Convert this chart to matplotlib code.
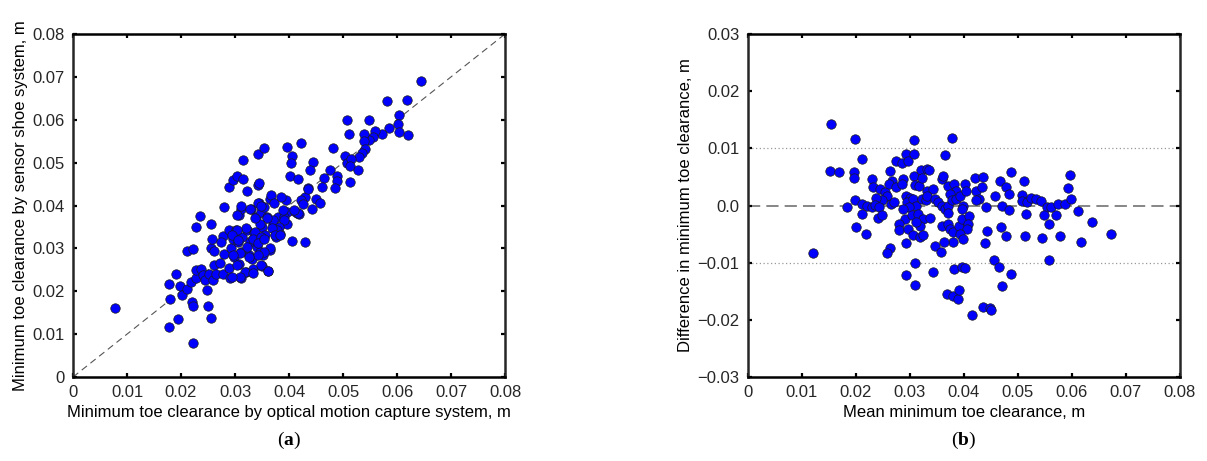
import matplotlib
matplotlib.use("Agg")
import matplotlib.pyplot as plt

plt.rcParams['font.family'] = ['Liberation Sans', 'DejaVu Sans']
plt.rcParams['font.size'] = 12
plt.rcParams['mathtext.fontset'] = 'custom'
plt.rcParams['mathtext.rm'] = 'Liberation Serif'
plt.rcParams['mathtext.bf'] = 'Liberation Serif:bold'

# (a) optical motion capture vs sensor shoe, m
optical = [0.0078, 0.0178, 0.0195, 0.0223, 0.0180, 0.0178, 0.0191, 0.0198, 0.0201, 0.0211,
           0.0220, 0.0223, 0.0212, 0.0223, 0.0227, 0.0236, 0.0219, 0.0227, 0.0228, 0.0237,
           0.0240, 0.0244, 0.0248, 0.0250, 0.0256, 0.0251, 0.0259, 0.0256, 0.0256, 0.0257,
           0.0261, 0.0262, 0.0265, 0.0272, 0.0277, 0.0274, 0.0280, 0.0278, 0.0280, 0.0288,
           0.0288, 0.0289, 0.0291, 0.0293, 0.0296, 0.0297, 0.0303, 0.0299, 0.0302, 0.0305,
           0.0307, 0.0308, 0.0311, 0.0314, 0.0314, 0.0312, 0.0311, 0.0313, 0.0320, 0.0322,
           0.0323, 0.0325, 0.0327, 0.0330, 0.0331, 0.0334, 0.0336, 0.0338, 0.0341, 0.0342,
           0.0343, 0.0344, 0.0344, 0.0345, 0.0347, 0.0348, 0.0350, 0.0350, 0.0351, 0.0354,
           0.0354, 0.0356, 0.0360, 0.0362, 0.0364, 0.0365, 0.0367, 0.0370, 0.0372, 0.0373,
           0.0376, 0.0379,
           0.0644, 0.0581, 0.0619, 0.0604, 0.0602, 0.0585, 0.0604, 0.0620, 0.0572, 0.0559,
           0.0556, 0.0549, 0.0538, 0.0538, 0.0548, 0.0507, 0.0511, 0.0541, 0.0536, 0.0530,
           0.0504, 0.0508, 0.0515, 0.0513, 0.0528, 0.0482, 0.0476, 0.0489, 0.0488, 0.0464,
           0.0462, 0.0485, 0.0513, 0.0444, 0.0439, 0.0436, 0.0430, 0.0422, 0.0406, 0.0404,
           0.0396, 0.0402, 0.0416, 0.0442, 0.0450, 0.0457, 0.0422, 0.0426, 0.0405, 0.0430,
           0.0414, 0.0418, 0.0410, 0.0396, 0.0394, 0.0386, 0.0383, 0.0396, 0.0390, 0.0328,
           0.0436, 0.0417, 0.0410, 0.0388, 0.0343, 0.0349, 0.0390, 0.0382, 0.0371, 0.0377,
           0.0368, 0.0359, 0.0346, 0.0337, 0.0312, 0.0304, 0.0320, 0.0303, 0.0294, 0.0337,
           0.0334, 0.0349, 0.0343, 0.0353, 0.0374, 0.0383, 0.0364, 0.0353, 0.0343, 0.0322,
           0.0309, 0.0325, 0.0297, 0.0306, 0.0303, 0.0318, 0.0334, 0.0349, 0.0362, 0.0309,
           0.0294]
shoe = [0.0160, 0.0117, 0.0135, 0.0080, 0.0181, 0.0216, 0.0240, 0.0212, 0.0192, 0.0206,
        0.0174, 0.0165, 0.0294, 0.0298, 0.0350, 0.0376, 0.0222, 0.0232, 0.0249, 0.0253,
        0.0237, 0.0226, 0.0202, 0.0165, 0.0138, 0.0241, 0.0226, 0.0300, 0.0358, 0.0323,
        0.0294, 0.0261, 0.0241, 0.0265, 0.0328, 0.0315, 0.0288, 0.0241, 0.0397, 0.0444,
        0.0342, 0.0254, 0.0230, 0.0300, 0.0321, 0.0459, 0.0468, 0.0280, 0.0342, 0.0315,
        0.0377, 0.0263, 0.0230, 0.0506, 0.0461, 0.0393, 0.0292, 0.0327, 0.0245, 0.0433,
        0.0344, 0.0284, 0.0315, 0.0393, 0.0276, 0.0253, 0.0335, 0.0374, 0.0304, 0.0447,
        0.0520, 0.0453, 0.0319, 0.0405, 0.0292, 0.0385, 0.0350, 0.0259, 0.0284, 0.0533,
        0.0397, 0.0331, 0.0374, 0.0247, 0.0296, 0.0416, 0.0424, 0.0358, 0.0405, 0.0346,
        0.0327, 0.0374,
        0.0691, 0.0643, 0.0645, 0.0611, 0.0590, 0.0580, 0.0571, 0.0564, 0.0567, 0.0574,
        0.0559, 0.0553, 0.0567, 0.0551, 0.0599, 0.0599, 0.0567, 0.0531, 0.0522, 0.0512,
        0.0516, 0.0500, 0.0508, 0.0491, 0.0484, 0.0535, 0.0483, 0.0469, 0.0458, 0.0465,
        0.0444, 0.0440, 0.0454, 0.0502, 0.0483, 0.0440, 0.0419, 0.0545, 0.0515, 0.0500,
        0.0537, 0.0469, 0.0462, 0.0393, 0.0416, 0.0407, 0.0413, 0.0403, 0.0317, 0.0314,
        0.0382, 0.0381, 0.0387, 0.0385, 0.0414, 0.0420, 0.0333, 0.0358, 0.0374, 0.0391,
        0.0438, 0.0383, 0.0390, 0.0390, 0.0405, 0.0398, 0.0366, 0.0351, 0.0366, 0.0343,
        0.0347, 0.0370, 0.0358, 0.0372, 0.0399, 0.0378, 0.0347, 0.0343, 0.0331, 0.0339,
        0.0323, 0.0327, 0.0312, 0.0323, 0.0331, 0.0331, 0.0302, 0.0292, 0.0284, 0.0304,
        0.0290, 0.0280, 0.0284, 0.0319, 0.0261, 0.0246, 0.0243, 0.0261, 0.0248, 0.0234,
        0.0233]

# (b) Bland-Altman: mean vs difference, m
mean_mtc = [0.0154, 0.0199, 0.0307, 0.0377, 0.0211, 0.0151, 0.0169, 0.0197, 0.0197, 0.0229,
            0.0232, 0.0244, 0.0254, 0.0257, 0.0248, 0.0238, 0.0199, 0.0184, 0.0211, 0.0220,
            0.0229, 0.0235, 0.0243, 0.0211, 0.0241, 0.0248, 0.0200, 0.0219, 0.0264, 0.0270,
            0.0263, 0.0266, 0.0262, 0.0274, 0.0285, 0.0293, 0.0297, 0.0307, 0.0275, 0.0288,
            0.0286, 0.0307, 0.0309, 0.0317, 0.0320, 0.0331, 0.0336, 0.0323, 0.0293, 0.0300,
            0.0295, 0.0305, 0.0312, 0.0299, 0.0288, 0.0322, 0.0330, 0.0331, 0.0343, 0.0332,
            0.0291, 0.0303, 0.0315, 0.0325, 0.0319, 0.0312, 0.0337, 0.0280, 0.0280, 0.0297,
            0.0306, 0.0319, 0.0325, 0.0293, 0.0263, 0.0257, 0.0310, 0.0292, 0.0309, 0.0342,
            0.0346, 0.0357, 0.0346, 0.0352, 0.0359, 0.0365, 0.0371, 0.0359, 0.0362, 0.0365,
            0.0371, 0.0382, 0.0385, 0.0374, 0.0377, 0.0386, 0.0393, 0.0402, 0.0404, 0.0399,
            0.0397, 0.0359, 0.0370, 0.0371, 0.0374, 0.0379, 0.0391, 0.0397, 0.0410, 0.0408,
            0.0405, 0.0393, 0.0379, 0.0363, 0.0399, 0.0382, 0.0397, 0.0402, 0.0368, 0.0380,
            0.0389, 0.0391, 0.0414, 0.0436, 0.0449, 0.0420, 0.0436, 0.0423, 0.0434, 0.0428,
            0.0422, 0.0441, 0.0457, 0.0467, 0.0478, 0.0484, 0.0488, 0.0470, 0.0484, 0.0469,
            0.0478, 0.0443, 0.0439, 0.0456, 0.0465, 0.0488, 0.0471,
            0.0511, 0.0507, 0.0508, 0.0516, 0.0525, 0.0534, 0.0542, 0.0515, 0.0553, 0.0562,
            0.0575, 0.0587, 0.0549, 0.0571, 0.0557, 0.0596, 0.0592, 0.0599, 0.0612, 0.0638,
            0.0673, 0.0617, 0.0513, 0.0544, 0.0578, 0.0558, 0.0450, 0.0120]
diff_mtc = [0.0142, 0.0117, 0.0114, 0.0118, 0.0082, 0.0061, 0.0059, 0.0058, 0.0048, 0.0046,
            0.0032, 0.0029, 0.0023, 0.0017, 0.0009, 0.0014, 0.0009, -0.0002, 0.0003, 0.0000,
            -0.0003, 0.0001, -0.0003, -0.0015, -0.0022, -0.0017, -0.0038, -0.0049, 0.0003, 0.0007,
            0.0061, 0.0043, 0.0038, 0.0078, 0.0074, 0.0090, 0.0078, 0.0090, 0.0032, 0.0046,
            0.0038, 0.0051, 0.0036, 0.0035, 0.0063, 0.0064, 0.0063, 0.0049, 0.0017, 0.0014,
            0.0006, 0.0012, 0.0000, -0.0003, -0.0006, 0.0012, 0.0009, 0.0026, 0.0029, 0.0017,
            -0.0023, -0.0017, -0.0014, -0.0023, -0.0035, -0.0029, -0.0022, -0.0032, -0.0043, -0.0041,
            -0.0052, -0.0055, -0.0051, -0.0066, -0.0075, -0.0083, -0.0101, -0.0122, -0.0139, -0.0116,
            -0.0071, -0.0081, 0.0012, 0.0006, 0.0000, -0.0006, 0.0000, 0.0046, 0.0052, 0.0088,
            0.0034, 0.0038, 0.0026, 0.0020, 0.0009, 0.0012, 0.0017, 0.0038, 0.0026, 0.0000,
            -0.0006, -0.0035, -0.0013, -0.0032, -0.0041, -0.0046, -0.0035, -0.0023, -0.0019, -0.0032,
            -0.0041, -0.0049, -0.0063, -0.0063, -0.0059, -0.0111, -0.0107, -0.0109, -0.0155, -0.0159,
            -0.0164, -0.0148, -0.0192, -0.0178, -0.0179, 0.0049, 0.0050, 0.0026, 0.0032, 0.0012,
            0.0009, -0.0003, 0.0017, 0.0043, 0.0032, 0.0020, 0.0058, 0.0000, -0.0007, -0.0038,
            -0.0054, -0.0045, -0.0066, -0.0096, -0.0107, -0.0120, -0.0140,
            0.0043, 0.0019, 0.0008, 0.0006, 0.0013, 0.0012, 0.0008, -0.0014, -0.0002, -0.0003,
            0.0003, 0.0002, -0.0017, -0.0016, -0.0032, 0.0053, 0.0031, 0.0011, -0.0009, -0.0029,
            -0.0049, -0.0064, -0.0054, -0.0057, -0.0054, -0.0095, -0.0182, -0.0083]

x_ticks = [0, 0.01, 0.02, 0.03, 0.04, 0.05, 0.06, 0.07, 0.08]
x_labels = ['0', '0.01', '0.02', '0.03', '0.04', '0.05', '0.06', '0.07', '0.08']
yb_ticks = [-0.03, -0.02, -0.01, 0, 0.01, 0.02, 0.03]
yb_labels = ['\u22120.03', '\u22120.02', '\u22120.01', '0.0', '0.01', '0.02', '0.03']


def style_axes(ax):
    for side in ['left', 'right']:
        ax.spines[side].set_color('#262626')
        ax.spines[side].set_linewidth(1.8)
    for side in ['top', 'bottom']:
        ax.spines[side].set_color('black')
        ax.spines[side].set_linewidth(1.8)
    ax.tick_params(direction='in', length=3, width=1.6, top=True, right=True,
                   colors='black', labelcolor='#262626', pad=6)
    ax.tick_params(axis='y', pad=6)


fig = plt.figure(figsize=(12.07, 4.61), dpi=100)
ax1 = fig.add_axes([0.0605, 0.1822, 0.3579, 0.744])
ax2 = fig.add_axes([0.6197, 0.1822, 0.3579, 0.744])

mk = dict(linestyle='none', marker='o', markersize=6.8, markerfacecolor='#0000ff',
          markeredgecolor='#1a1a1a', markeredgewidth=0.5)

ax1.plot([0, 0.08], [0, 0.08], linestyle=(0, (6, 4)), color='#555555', linewidth=0.8, zorder=1)
ax1.plot(optical, shoe, zorder=2, **mk)
ax1.set_xlim(0, 0.08)
ax1.set_ylim(0, 0.08)
ax1.set_xticks(x_ticks)
ax1.set_xticklabels(x_labels)
ax1.set_yticks(x_ticks)
ax1.set_yticklabels(x_labels)
ax1.set_xlabel('Minimum toe clearance by optical motion capture system, m', labelpad=3)
ax1.set_ylabel('Minimum toe clearance by sensor shoe system, m', labelpad=3)
style_axes(ax1)

ax2.axhline(0, linestyle=(0, (8, 4)), color='#666666', linewidth=1.1, zorder=1)
ax2.axhline(0.01, linestyle=(0, (1, 2)), color='#999999', linewidth=0.9, zorder=1)
ax2.axhline(-0.01, linestyle=(0, (1, 2)), color='#999999', linewidth=0.9, zorder=1)
ax2.plot(mean_mtc, diff_mtc, zorder=2, **mk)
ax2.set_xlim(0, 0.08)
ax2.set_ylim(-0.03, 0.03)
ax2.set_xticks(x_ticks)
ax2.set_xticklabels(x_labels)
ax2.set_yticks(yb_ticks)
ax2.set_yticklabels(yb_labels)
ax2.set_xlabel('Mean minimum toe clearance, m', labelpad=3)
ax2.set_ylabel('Difference in minimum toe clearance, m', labelpad=3)
style_axes(ax2)

fig.text(0.2395, 0.045, r'($\mathbf{a}$)', ha='center', va='center',
         fontsize=14, family='Liberation Serif')
fig.text(0.7987, 0.045, r'($\mathbf{b}$)', ha='center', va='center',
         fontsize=14, family='Liberation Serif')

fig.savefig('out.png', dpi=100)
